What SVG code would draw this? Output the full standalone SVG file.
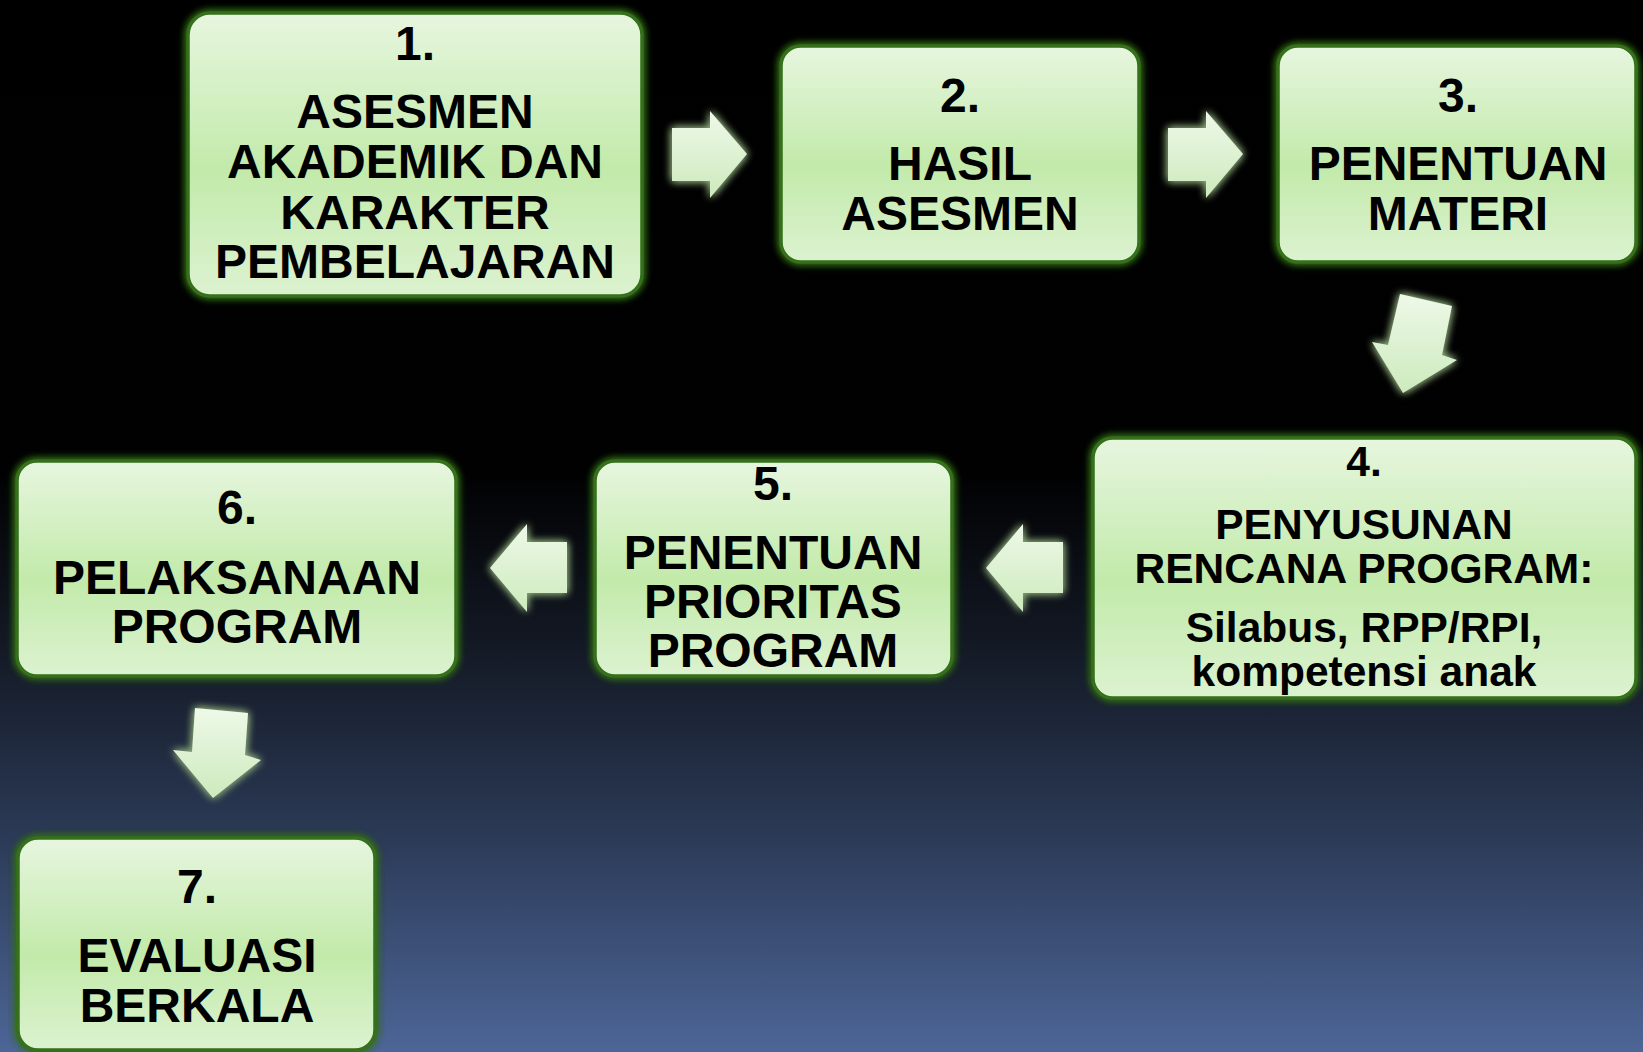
<svg xmlns="http://www.w3.org/2000/svg" width="1643" height="1052" viewBox="0 0 1643 1052">
<defs>
<linearGradient id="bg" x1="0" y1="0" x2="0" y2="1">
<stop offset="0" stop-color="#000000"/>
<stop offset="0.45" stop-color="#010102"/>
<stop offset="0.62" stop-color="#141a26"/>
<stop offset="0.8" stop-color="#2c3b58"/>
<stop offset="1" stop-color="#4d6697"/>
</linearGradient>
<linearGradient id="boxfill" x1="0" y1="0" x2="0" y2="1">
<stop offset="0" stop-color="#e7f6df"/>
<stop offset="0.55" stop-color="#c2eaaa"/>
<stop offset="1" stop-color="#dcf2d0"/>
</linearGradient>
<linearGradient id="arrowfill" x1="0" y1="0" x2="0" y2="1">
<stop offset="0" stop-color="#eef9e8"/>
<stop offset="1" stop-color="#cdeabd"/>
</linearGradient>
<filter id="boxglow" x="-10%" y="-10%" width="120%" height="120%">
<feGaussianBlur in="SourceAlpha" stdDeviation="4" result="b"/>
<feFlood flood-color="#356d1a"/>
<feComposite in2="b" operator="in" result="g"/>
<feMerge><feMergeNode in="g"/><feMergeNode in="g"/><feMergeNode in="SourceGraphic"/></feMerge>
</filter>
<filter id="arrowglow" x="-30%" y="-30%" width="160%" height="160%">
<feGaussianBlur in="SourceAlpha" stdDeviation="4" result="b"/>
<feFlood flood-color="#8aa878"/>
<feComposite in2="b" operator="in" result="g"/>
<feMerge><feMergeNode in="g"/><feMergeNode in="g"/><feMergeNode in="SourceGraphic"/></feMerge>
</filter>
</defs>
<style>
.box{fill:url(#boxfill);stroke:#356f1a;stroke-width:3.5;filter:url(#boxglow)}
.arr{fill:url(#arrowfill);stroke:none;filter:url(#arrowglow)}
text{font-family:"Liberation Sans",Arial,sans-serif;font-weight:bold;fill:#000;text-anchor:middle}
.t{font-size:48px}
.s{font-size:42.5px}
</style>
<rect x="0" y="0" width="1643" height="1052" fill="url(#bg)"/>
<g id="connectors">
<polygon class="arr" points="672,128 710,128 710,111 747,154 710,198 710,181 672,181"/>
<polygon class="arr" points="1168,128 1206,128 1206,111 1243,154 1206,198 1206,181 1168,181"/>
<polygon class="arr" points="1400,294 1452,306 1442,355 1457,360 1403,393 1372,342 1388,345"/>
<polygon class="arr" points="1063,542 1023,542 1023,524 986,568 1023,612 1023,593 1063,593"/>
<polygon class="arr" points="567,542 527,542 527,524 490,568 527,612 527,593 567,593"/>
<polygon class="arr" points="195,708 248,713 245,755 261,760 213,798 173,750 192,752"/>
</g>
<g id="node1">
<rect class="box" x="188" y="13" width="454" height="283" rx="22"/>
<text class="t" x="415" y="60">1.</text>
<text class="t" x="415" y="128">ASESMEN</text>
<text class="t" x="415" y="178">AKADEMIK DAN</text>
<text class="t" x="415" y="229">KARAKTER</text>
<text class="t" x="415" y="278">PEMBELAJARAN</text>
</g>
<g id="node2">
<rect class="box" x="781" y="46" width="358" height="216" rx="20"/>
<text class="t" x="960" y="112">2.</text>
<text class="t" x="960" y="180">HASIL</text>
<text class="t" x="960" y="230">ASESMEN</text>
</g>
<g id="node3">
<rect class="box" x="1278" y="46" width="358" height="216" rx="20"/>
<text class="t" x="1458" y="112">3.</text>
<text class="t" x="1458" y="180">PENENTUAN</text>
<text class="t" x="1458" y="230">MATERI</text>
</g>
<g id="node4">
<rect class="box" x="1093" y="438" width="543" height="260" rx="20"/>
<text class="s" x="1364" y="476">4.</text>
<text class="s" x="1364" y="539">PENYUSUNAN</text>
<text class="s" x="1364" y="583">RENCANA PROGRAM:</text>
<text class="s" x="1364" y="642">Silabus, RPP/RPI,</text>
<text class="s" x="1364" y="686">kompetensi anak</text>
</g>
<g id="node5">
<rect class="box" x="595" y="461" width="357" height="215" rx="20"/>
<text class="t" x="773" y="500">5.</text>
<text class="t" x="773" y="569">PENENTUAN</text>
<text class="t" x="773" y="618">PRIORITAS</text>
<text class="t" x="773" y="667">PROGRAM</text>
</g>
<g id="node6">
<rect class="box" x="17" y="461" width="439" height="215" rx="20"/>
<text class="t" x="237" y="524">6.</text>
<text class="t" x="237" y="594">PELAKSANAAN</text>
<text class="t" x="237" y="643">PROGRAM</text>
</g>
<g id="node7">
<rect class="box" x="18" y="838" width="357" height="212" rx="20"/>
<text class="t" x="197" y="903">7.</text>
<text class="t" x="197" y="972">EVALUASI</text>
<text class="t" x="197" y="1022">BERKALA</text>
</g>
</svg>
